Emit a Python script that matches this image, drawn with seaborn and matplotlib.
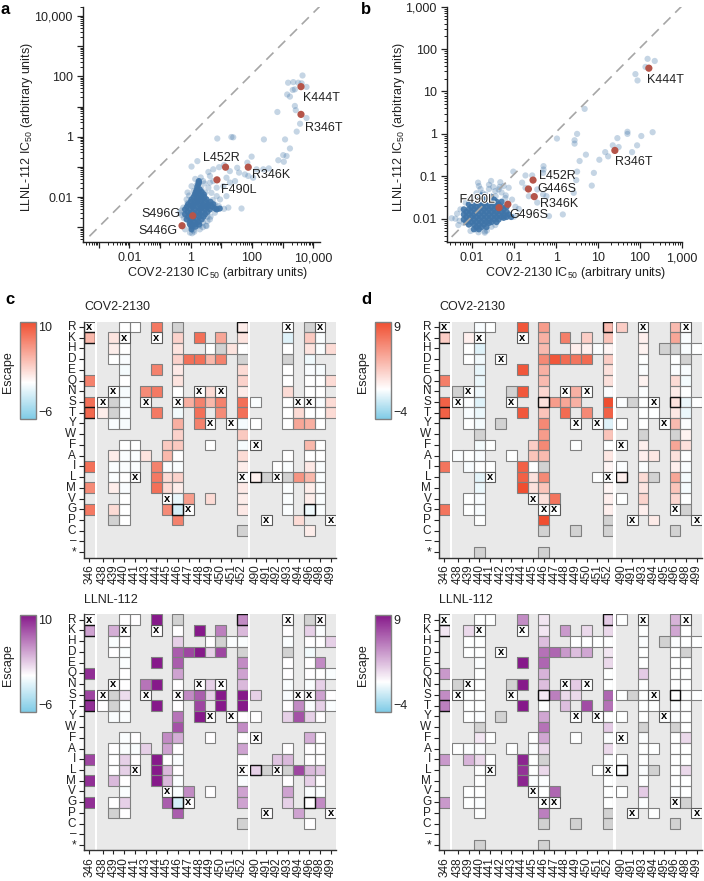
import numpy as np
import pandas as pd
import seaborn as sns
from matplotlib import pyplot as plt
from matplotlib import patheffects
from matplotlib.cm import ScalarMappable
from matplotlib.colors import LinearSegmentedColormap, ListedColormap, Normalize
from matplotlib.patches import Rectangle
from matplotlib.ticker import LogLocator, NullFormatter

# ---- panel a, log10 values
A_LIGHT_X = [3.35,3.18,3.51,3.65,3.62,3.78,3.40,3.33,3.15,3.24,3.40,3.43,2.83,3.78,3.57,3.46,3.08,3.24,3.02,3.13,
             2.86,3.04,2.55,2.39,2.37,2.15,1.99,1.85,1.39,1.33,0.87,0.22,0.03,0.58,0.74,0.93,1.09,1.52,1.58,1.77,
             1.88,2.04,1.17,1.28,0.63,0.74,1.45,1.28,1.07,0.85,1.17,1.66,1.23,1.09,0.90,0.63,0.41,0.03,0.58,0.85,
             0.96,0.68,0.52,0.30,-0.02,0.03,-0.18,0.63,0.79,-0.35,-0.24,-0.13,0.20,0.35,0.48,-0.10,0.10,0.25,0.60,
             0.70,0.15,0.40,0.55,-0.05,0.10,0.30,-0.22,-0.10,0.72,0.65,0.50,0.40,-0.28,-0.30,0.80,0.92,0.45,-0.05,
             0.15,0.33,0.12,0.05,0.55]
A_LIGHT_Y = [1.81,1.79,1.79,2.03,1.77,1.65,1.57,1.55,1.40,1.33,1.02,0.88,0.82,0.62,0.43,0.17,-0.09,-0.39,-0.61,-0.64,
             -0.78,-0.83,-1.05,-0.09,-1.08,-1.08,-0.66,-0.86,-0.02,-0.01,-0.06,-0.81,-0.99,-1.17,-1.08,-1.01,-0.94,-1.03,-1.19,-1.25,
             -1.30,-1.36,-1.36,-1.14,-1.30,-1.47,-1.47,-1.52,-1.64,-1.69,-1.97,-2.38,-2.35,-2.39,-2.39,-1.52,-1.47,-1.64,-1.69,-1.97,
             -2.08,-1.86,-2.96,-3.07,-3.18,-3.02,-3.07,-2.74,-2.52,-2.52,-2.35,-2.08,-1.60,-1.72,-1.85,-1.85,-1.80,-1.50,-2.20,
             -2.30,-2.85,-2.85,-2.80,-2.85,-3.10,-2.95,-2.70,-2.20,-2.10,-2.65,-2.95,-3.00,-2.60,-2.45,-2.25,-2.30,-1.55,-1.95,
             -1.40,-1.35,-3.15,-3.20,-2.65]
A_CORE_X = [0.25,0.20,0.30,0.14,0.28,0.43,0.03,0.20,0.36,0.52,-0.08,0.09,0.25,0.41,0.58,0.74,-0.18,-0.02,0.14,0.30,
            0.47,0.63,0.85,-0.18,-0.02,0.14,0.30,0.47,-0.13,0.03,0.20,0.36,-0.02,0.14,0.28,0.03,0.07,0.22,0.36,0.50,
            0.22,0.17,0.24,0.36,0.10,0.22,0.35,0.45,0.00,0.17,0.33,0.49,0.65,-0.12,0.06,0.22,0.38,0.55,0.70,-0.10,
            0.06,0.22,0.38,0.55,-0.08,0.10,0.28,0.42,-0.02,0.12,0.26,0.03,0.16,0.80,0.95,0.27,0.27]
A_CORE_Y = [-1.58,-1.75,-1.75,-1.91,-1.91,-1.91,-2.08,-2.08,-2.08,-2.08,-2.24,-2.24,-2.24,-2.24,-2.24,-2.24,-2.41,-2.41,-2.41,-2.41,
            -2.41,-2.41,-2.41,-2.57,-2.57,-2.57,-2.57,-2.57,-2.74,-2.74,-2.74,-2.74,-2.91,-2.91,-2.91,-3.07,-2.30,-2.15,-2.35,-2.32,
            -1.66,-1.83,-1.83,-1.83,-2.00,-2.00,-2.00,-2.00,-2.16,-2.16,-2.16,-2.16,-2.16,-2.32,-2.32,-2.32,-2.32,-2.32,-2.32,-2.49,
            -2.49,-2.49,-2.49,-2.49,-2.65,-2.65,-2.65,-2.65,-2.82,-2.82,-2.82,-2.98,-2.98,-2.38,-2.38,-1.47,-1.52]
A_NAMES = ["K444T","R346T","R346K","L452R","F490L","S496G","S446G"]
A_NAME_X = [3.60,3.60,1.88,1.14,0.86,0.07,-0.28]
A_NAME_Y = [1.66,0.74,-1.01,-1.01,-1.43,-2.62,-2.95]
A_TICK_LOG = [-3,-2,-1,0,1,2,3,4]
A_TICK_TEXT = ["","0.01","","1","","100","","10,000"]

# ---- panel b
B_LIGHT_X = [2.18,2.35,2.13,1.89,1.94,0.68,1.70,1.70,2.30,2.03,1.93,1.46,1.35,1.49,1.17,1.24,1.81,1.03,0.71,0.56,
             0.50,0.44,0.44,0.02,0.50,0.48,0.90,0.85,0.42,0.16,-0.17,-0.31,-0.23,-0.45,-0.30,-0.30,-0.31,-0.73,-0.57,-0.81,
             -0.73,-1.02,-0.53,-0.45,-0.65,-0.97,-1.86,-1.84,-1.55,-1.33,-1.25,-1.13,-1.37,-1.70,-1.54,-2.04,-2.33,-2.49,-2.36,-1.21,
             -1.05,-0.89,-1.25,-1.19,-1.68,-1.44,-2.08,-2.16,-2.28,-1.90,-1.60,-1.30,-1.65,-1.45,-2.30,-1.75,-1.50,-1.20,-1.35,-1.60,
             -1.45,-1.15,-1.00,-1.80,-2.00,-2.20,-2.40,-1.90,-1.85,-1.70]
B_LIGHT_Y = [1.77,1.72,1.58,1.41,1.26,0.59,0.05,0.00,0.04,-0.05,-0.27,-0.10,-0.27,-0.31,-0.43,-0.53,-0.43,-0.61,-0.49,-0.64,
             0.00,-0.15,-0.23,-0.11,-0.89,-1.09,-0.92,-1.22,-1.39,-1.90,-1.94,-1.43,-1.47,-1.62,-0.76,-0.84,-0.92,-0.98,-0.98,-1.15,
             -1.27,-0.89,-1.47,-1.31,-1.47,-1.72,-1.15,-1.23,-1.11,-1.14,-1.23,-1.27,-1.31,-2.33,-2.19,-2.29,-2.15,-1.99,-1.88,-1.51,
             -1.55,-1.77,-1.95,-1.94,-1.43,-1.47,-1.55,-1.62,-1.78,-1.40,-1.30,-1.38,-2.28,-2.15,-2.05,-1.40,-1.25,-1.45,-1.25,-1.20,
             -1.35,-1.65,-1.95,-1.30,-1.50,-2.10,-2.00,-2.25,-2.32,-2.30]
B_CORE_X = [-1.96,-1.84,-1.72,-1.60,-1.48,-2.08,-1.96,-1.84,-1.72,-1.60,-1.48,-1.37,-2.20,-2.08,-1.96,-1.84,-1.72,-1.60,-1.48,-1.37,
            -1.25,-2.20,-2.08,-1.96,-1.84,-1.72,-1.60,-1.48,-1.37,-1.25,-1.13,-2.20,-2.08,-1.96,-1.84,-1.72,-1.60,-1.48,-1.37,-1.25,
            -2.08,-1.96,-1.84,-1.72,-1.60,-1.96,-1.84,-1.78,-1.55,-1.30,
            -1.90,-1.78,-1.66,-1.54,-1.42,-2.02,-1.90,-1.78,-1.66,-1.54,-1.42,-1.30,-1.18,-2.14,-2.02,-1.90,-1.78,-1.66,-1.54,-1.42,
            -1.30,-1.18,-2.14,-2.02,-1.90,-1.78,-1.66,-1.54,-1.42,-1.30,-1.18,-1.07,-2.14,-2.02,-1.90,-1.78,-1.66,-1.54,-1.42,-1.90,
            -1.78,-1.66]
B_CORE_Y = [-1.55,-1.55,-1.55,-1.55,-1.55,-1.66,-1.66,-1.66,-1.66,-1.66,-1.66,-1.66,-1.78,-1.78,-1.78,-1.78,-1.78,-1.78,-1.78,-1.78,
            -1.78,-1.90,-1.90,-1.90,-1.90,-1.90,-1.90,-1.90,-1.90,-1.90,-1.90,-2.02,-2.02,-2.02,-2.02,-2.02,-2.02,-2.02,-2.02,-1.98,
            -2.14,-2.14,-2.14,-2.14,-2.10,-2.25,-2.25,-1.45,-1.48,-1.60,
            -1.60,-1.60,-1.60,-1.60,-1.60,-1.72,-1.72,-1.72,-1.72,-1.72,-1.72,-1.72,-1.72,-1.84,-1.84,-1.84,-1.84,-1.84,-1.84,-1.84,
            -1.84,-1.84,-1.96,-1.96,-1.96,-1.96,-1.96,-1.96,-1.96,-1.96,-1.96,-1.96,-2.08,-2.08,-2.08,-2.08,-2.08,-2.08,-2.08,-2.20,
            -2.20,-2.20]
B_NAMES = ["K444T","R346T","L452R","G446S","R346K","G496S","F490L"]
B_NAME_X = [2.21,1.40,-0.55,-0.66,-0.52,-1.15,-1.36]
B_NAME_Y = [1.55,-0.39,-1.09,-1.30,-1.48,-1.66,-1.74]
B_TICK_LOG = [-2,-1,0,1,2,3]
B_TICK_TEXT = ["0.01","0.1","1","10","100","1,000"]

# ---- heatmaps: 'x' wild type, 'g' grey cell
ROWS = ["R","K","H","D","E","Q","N","S","T","Y","W","F","A","I","L","M","V","G","P","C","–","*"]
STAR = {"*": "g"}
SEGS_C = [["346"],
          ["438","439","440","441","443","444","445","446","447","448","449","450","451","452"],
          ["490","491","492","493","494","496","498","499"]]
SEGS_D = [["346"],
          ["438","439","440","441","442","443","444","445","446","447","448","449","450","451","452"],
          ["490","491","493","494","495","496","498","499"]]
BOLD_C = [("346","K"),("346","T"),("446","G"),("452","R"),("490","L"),("496","G")]
BOLD_D = [("346","K"),("346","T"),("446","S"),("452","R"),("490","L"),("496","S")]

C_TOP = {
 "346": dict(R='x',K=4,Q=7,S=8,T=8.5,I=8,M=6.5,G=7.5),
 "438": dict(S='x',T=1),
 "439": dict(K=1.5,H=1,D=0,N='x',S='g',T='g',Y=-.3,A=1,I=-.2,L=-.2,M=1,G=2,P='g'),
 "440": dict(R=0,K='x',H=0,D=-.3,E=-.5,Q=0,N=-.4,S=-.4,T=-.3,Y=-.4,F=0,A=-.2,I=-.2,L=0,M=-.3,V=0,G=0,P=0),
 "441": dict(R=0,F=0,A=-.2,I=-.2,L='x'),
 "443": dict(N=6.5,S='x',A=1.5),
 "444": dict(R=7.5,K='x',E=7,N=7.5,T=7.5,I=7,L=7.5,M=8),
 "445": dict(F=3,A=4,I=-.2,L=2,M=2,V='x',G=6.5),
 "446": dict(R='g',K=2.5,H=1.5,D=2.5,E=1.2,Q=1.5,N=0,S='x',T=-.6,Y=4.5,W=2.5,F=3,A=0,I=-.2,L=2.5,M=1,V=-1,G=-2,P=7),
 "447": dict(D=8,S=4.5,V=5.5,G='x'),
 "448": dict(K=8,D=8,N='x',S=7,T=8,Y=7),
 "449": dict(H=0,D=4,N=2,S=4,Y='x',F=0,V=2),
 "450": dict(K=5,H='g',D=7,N='x',S=7,T=6.5),
 "451": dict(H=1.5,Y='x'),
 "452": dict(R=1,K=1.5,H=0,D='g',E=2,Q=2.5,N=1,S=8,T=8,Y=-.5,W=3,F=-.4,A=2,I=1,L='x',M=1.2,V=1,G=1.2,C='g'),
 "490": dict(S=-.2,Y=0,F='x',L=.8),
 "491": dict(L='g',P='x'),
 "492": dict(I=0,L='x'),
 "493": dict(R='x',K=-1.5,H=0,D='g',E=0,Q=0,N=2,S=0,T=0,Y=0,A=0,I=-.2,L='g',M=-.2,V=-.2,G=-.2),
 "494": dict(S='x',T=2,Y=5,L=6,P=2),
 "496": dict(R='g',K=3,H=1.5,D=-.7,E=-.3,Q=0,N=0,S='x',T=0,Y=4.5,F=4,A=0,I=1.2,L=4,M=1,V=1,G=-.7,C=1),
 "498": dict(R='x',K=-.2,H=-.2,E=-.4,Q=0,N=0,S=-.3,T=0,Y=0,F=0,A=0,I=-.2,L=-.2,M=-.2,V=-.2,G=-.2),
 "499": dict(H=2,Q=2,S=2,T=2,P='x'),
}
C_BOTTOM = {
 "346": dict(R='x',K=4,Q=9,S=8,T=9,I=8,M=9,G=9),
 "438": dict(S='x',T=0),
 "439": dict(K=3.5,H=-.2,D=0,N='x',S='g',T='g',Y=-.2,A=0,I=0,L=0,M=3,G=0,P='g'),
 "440": dict(R=0,K='x',H=0,D=-.2,E=-.2,Q=0,N=0,S=1.5,T=-.2,Y=-.2,F=-.2,A=-.2,I=2,L=2,M=0,V=-.2,G=2,P=0),
 "441": dict(R=0,F=0,A=-.2,I=0,L='x'),
 "443": dict(N=6,S='x',A=2),
 "444": dict(R=10,K='x',E=10,N=10,T=10,I=10,L=10,M=10),
 "445": dict(F=5,A=4,I=0,L=3,M=3,V='x',G=7),
 "446": dict(R='g',K=0,H=2,D=7,E=7,Q=4,N=0,S='x',T=0,Y=6,W=7.5,F=3.5,A=0,I=-.2,L=0,M=-.2,V=-.2,G=-2,P=7),
 "447": dict(D=8,S=5,V=5,G='x'),
 "448": dict(K=10,D=10,N='x',S=7,T=8,Y=10),
 "449": dict(H=0,D=2,N=2,S=2,Y='x',F=0,V=0),
 "450": dict(K=5.5,H='g',D=8,N='x',S=10,T=10),
 "451": dict(H=-.2,Y='x'),
 "452": dict(R=5,K=3,H=-.2,D='g',E=5,Q=4,N=3,S=10,T=10,Y=0,W=5,F=0,A=4,I=0,L='x',M=-.2,V=4,G=4,C='g'),
 "490": dict(S=2,Y=0,F='x',L=2),
 "491": dict(L='g',P='x'),
 "492": dict(I=2.5,L='x'),
 "493": dict(R='x',K=0,H=-.2,D='g',E=0,Q=0,N=-.2,S=-.3,T=0,Y=2,A=0,I=3,L='g',M=0,V=4,G=2),
 "494": dict(S='x',T=5,Y=7.5,L=8,P=4),
 "496": dict(R='g',K=2,H=0,D=-.6,E=0,Q=0,N=-.2,S='x',T=-.2,Y=2,F=3.5,A=0,I=0,L=3,M=2,V=-.2,G=0,C=0),
 "498": dict(R='x',K=-.2,H=0,E=5,Q=0,N=2,S=4,T=2,Y=0,F=0,A=0,I=0,L=2.5,M=0,V=-.2,G=5),
 "499": dict(H=2,Q=-.2,S=0,T=-.2,P='x'),
}
D_TOP = {
 "346": dict(R='x',K=2.5,Q=6.5,S=8,T=8,I=7,G=7),
 "438": dict(N='g',S='x',A=-.1),
 "439": dict(K=.8,H=0,D=0,N='x',S=-.1,T=-.2,Y=0,A=0,I=-.2,V=0,G=0),
 "440": dict(R=-.2,K='x',H=-1,D=-.4,E=-.7,Q=-.6,N=-.5,S=-1,T=-.6,Y=-.3,W='g',F=-.3,A=-.2,I=0,L=-.9,M=-.6,V=-.2,G=-.2,P=0,**STAR),
 "441": dict(R=0,F=0,I=0,L='x'),
 "442": dict(D='x',Y='g'),
 "443": dict(N='g',S='x',A=0),
 "444": dict(R=8.5,K='x',E=8.5,N=8.5,T=8.5,I=8,L=8,M=9),
 "445": dict(F=2.5,A=3,I=0,L=1.5,M=1.5,V='x'),
 "446": dict(R=5,K=4,H=3.5,D=6,E=4,Q=3.5,N=2,S=1.5,T=3,Y=6,W=5,F=6,A=3.5,I='g',L=6,M=3,V=1.5,G='x',P=9,C='g',**STAR),
 "447": dict(D=8.5,S=5,V=7,G='x'),
 "448": dict(K=6.5,D=7.5,N='x',S=4.5,T=7.5),
 "449": dict(H=.8,D=7,N=4,S=4,Y='x',F=0,C='g'),
 "450": dict(K=2.5,H=.8,D=7.5,N='x',T=6),
 "451": dict(H=-.1,Y='x',L=0),
 "452": dict(R=3.5,K=3,H=.5,D=2.5,E=1.5,Q=1.5,N=-.1,S=9,T=8,Y=-1,W=3,F=0,A=1.2,I=.5,L='x',M=.5,V=.8,G=.8,P='g',C='g'),
 "490": dict(R=2.5,S=-.1,Y=0,F='x',I=-.1,L=.8,V=0),
 "491": dict(S='g',P='x'),
 "493": dict(R='x',K=.8,H=.6,D=0,E=-.1,Q=.6,N=-.1,S=0,T=0,Y=0,W='g',F=.8,A=.8,I=-.1,L=1.8,M=1.3,V=2.2,G=.8),
 "494": dict(S='x',T=0,A=1.2,L='g',P=1),
 "495": dict(H='g',Y='x'),
 "496": dict(R=3.5,K=4.5,H='g',D=0,E=-.1,Q=1.8,N=1,S=1.5,T=1.2,Y=3.5,W='g',F=4.5,A=1.5,I=.8,L=4.5,M=3,V=2,G='x',C='g'),
 "498": dict(R='x',K=-.2,H=-.2,D='g',E=-.2,Q=-.3,N=0,S=-.6,T=-.6,Y=-.1,W=.6,F=1.5,A=0,I=-.2,L=-.3,M=-.3,V=0,G='g'),
 "499": dict(H=0,S=0,P='x'),
}
D_BOTTOM = {
 "346": dict(R='x',K=1,Q=4,S=4.5,T=5,I=4,G=4),
 "438": dict(N='g',S='x',A=0),
 "439": dict(K=1.5,H=0,D=0,N='x',S=0,T=0,Y=0,A=-.1,I=3,V=0,G=0),
 "440": dict(R=0,K='x',H=0,D=0,E=-.1,Q=0,N=0,S=0,T=0,Y=-.1,W='g',F=1,A=-.1,I=1.5,L=0,M=0,V=0,G=-.1,P=0,**STAR),
 "441": dict(R=0,F=0,I=0,L='x'),
 "442": dict(D='x',Y='g'),
 "443": dict(N='g',S='x',A=0),
 "444": dict(R=4.5,K='x',E=9,N=9,T=9,I=8.5,L=8,M=8.5),
 "445": dict(F=0,A=-.1,I=0,L=0,M=-.1,V='x'),
 "446": dict(R=1,K=1,H=2.5,D=5.5,E=6,Q=3,N=2.5,S=1,T=0,Y=3.5,W=5.5,F=3.5,A=1.5,I='g',L=1.5,M=-.1,V=0,G='x',P=5,C='g',**STAR),
 "447": dict(D=6,S=5,V=6,G='x'),
 "448": dict(K=4,D=4,N='x',S=1.5,T=2.5),
 "449": dict(H=0,D=2.5,N=2,S=1.5,Y='x',F=0,C='g'),
 "450": dict(K=1.5,H=0,D=3.5,N='x',T=7),
 "451": dict(H=0,Y='x',L=0),
 "452": dict(R=2,K=1.5,H=0,D=1,E=1.5,Q=0,N=0,S=6,T=5.5,Y=0,W=2,F=-.1,A=1.5,I=-.1,L='x',M=0,V=0,G=0,P='g',C='g'),
 "490": dict(R=0,S=0,Y=0,F='x',I=0,L=0,V=0),
 "491": dict(S='g',P='x'),
 "493": dict(R='x',K=0,H=-.1,D=0,E=0,Q=2,N=0,S=0,T=0,Y=0,W='g',F=-.1,A=0,I=0,L=-.1,M=0,V=2,G=-.1),
 "494": dict(S='x',T=0,A=0,L='g',P=0),
 "495": dict(H='g',Y='x'),
 "496": dict(R=3,K=3.5,H=-.1,D=0,E=0,Q=0,N=0,S=0,T=-.1,Y=-.1,W='g',F=0,A=0,I=0,L=0,M=0,V=-.1,G='x',C='g'),
 "498": dict(R='x',K=0,H=0,D='g',E=0,Q=0,N=0,S=0,T=0,Y=0,W=0,F=1.5,A=0,I=0,L=1.5,M=0,V=0,G='g'),
 "499": dict(H=0,S=0,P='x'),
}

W, H = 704, 881
BLUE = "#3f74a8"
RED = "#b5554a"
EDGE = "#808080"

sns.set_theme(style="ticks")
plt.rcParams["font.family"] = ["Liberation Sans", "DejaVu Sans"]
plt.rcParams["mathtext.default"] = "regular"
plt.rcParams["text.color"] = "#222222"

fig = plt.figure(figsize=(W / 100, H / 100), dpi=100)


def px_axes(left, top, right, bottom):
  return fig.add_axes([left / W, 1 - bottom / H, (right - left) / W, (bottom - top) / H])


def scatter_panel(box, lx, ly, cx, cy, names, nx, ny, offsets, lims, dash, ticks, tick_text, xlab_pos, ylab_pos):
  ax = px_axes(*box)
  sns.scatterplot(x=10.0 ** np.array(lx), y=10.0 ** np.array(ly), color=BLUE, alpha=0.3, s=20, edgecolor="none", ax=ax)
  sns.scatterplot(x=10.0 ** np.array(cx), y=10.0 ** np.array(cy), color=BLUE, alpha=0.9, s=20, edgecolor="none", ax=ax)
  ax.plot(10.0 ** np.array(dash[0]), 10.0 ** np.array(dash[1]), color="#a6a6a6", lw=1.2, dashes=(6, 4), zorder=1)
  sns.scatterplot(x=10.0 ** np.array(nx), y=10.0 ** np.array(ny), color=RED, s=27, edgecolor="none", ax=ax, zorder=5)
  ax.set_xscale("log")
  ax.set_yscale("log")
  ax.set_xlim(10.0 ** lims[0], 10.0 ** lims[1])
  ax.set_ylim(10.0 ** lims[2], 10.0 ** lims[3])
  for axis in (ax.xaxis, ax.yaxis):
    axis.set_ticks([10.0 ** t for t in ticks])
    axis.set_ticklabels(tick_text)
    axis.set_minor_locator(LogLocator(base=10, subs=range(2, 10), numticks=30))
    axis.set_minor_formatter(NullFormatter())
  ax.tick_params(which="major", length=4.5, width=0.9, labelsize=9, pad=3, color="#222222", labelcolor="#222222")
  ax.tick_params(which="minor", length=2.5, width=0.7, color="#222222")
  ax.patch.set_alpha(0)
  sns.despine(ax=ax)
  for side in ("left", "bottom"):
    ax.spines[side].set_linewidth(1.0)
    ax.spines[side].set_color("#222222")
  for name, x, y, (ha, dx, dy) in zip(names, nx, ny, offsets):
    t = ax.annotate(name, (10.0 ** x, 10.0 ** y), xytext=(dx, dy), textcoords="offset pixels",
                    ha=ha, va="center", fontsize=9, zorder=6)
    if name == "F490L" and lims[0] > -3:
      t.set_path_effects([patheffects.withStroke(linewidth=1.5, foreground="white")])
  fig.text(xlab_pos / W, 1 - 273 / H, "COV2-2130 IC$_{50}$ (arbitrary units)", ha="center", va="center", fontsize=9)
  fig.text(ylab_pos / W, 1 - 127 / H, "LLNL-112 IC$_{50}$ (arbitrary units)", ha="center", va="center",
           rotation=90, fontsize=9)
  return ax


def heat_panel(table, segments, bold, left, top, title, vmin, vmax, hot, tops):
  pitch = 10.73
  stops = [(0, "#7fcbe6"), (-vmin / (vmax - vmin), "white"), (1, hot)]
  cmap = LinearSegmentedColormap.from_list("escape", stops)
  raw = pd.DataFrame(table, index=ROWS)
  values = raw.map(lambda v: 0.0 if v == "x" else (np.nan if v == "g" else float(v))).astype(float)
  grey = raw.map(lambda v: 1.0 if v == "g" else np.nan).astype(float)
  marks = raw.map(lambda v: "x" if v == "x" else "")
  x = left
  for i, cols in enumerate(segments):
    if i > 0:
      x += 2.7
    width = pitch * len(cols)
    ax = px_axes(x, top, x + width, top + pitch * len(ROWS))
    ax.set_facecolor("#e9e9e9")
    if grey[cols].notna().any().any():
      sns.heatmap(grey[cols], cmap=ListedColormap(["#d2d2d2"]), vmin=0, vmax=2, cbar=False, ax=ax)
    sns.heatmap(values[cols], cmap=cmap, vmin=vmin, vmax=vmax, cbar=False,
                annot=marks[cols], fmt="", annot_kws={"size": 8, "color": "black", "weight": "bold"},
                yticklabels=ROWS if i == 0 else False, xticklabels=cols, ax=ax)
    # outlines only on measured cells, masked ones stay open
    for cx, col in enumerate(cols):
      for cy, row in enumerate(ROWS):
        cell = raw.loc[row, col]
        if pd.isna(cell):
          continue
        if (col, row) in bold:
          ax.add_patch(Rectangle((cx, cy), 1, 1, fill=False, ec="#111111", lw=1.0, zorder=4))
        elif cell == "x":
          ax.add_patch(Rectangle((cx, cy), 1, 1, fill=False, ec="#5a5a5a", lw=0.8, zorder=3))
        else:
          ax.add_patch(Rectangle((cx, cy), 1, 1, fill=False, ec=EDGE, lw=0.8, zorder=2))
    for side in ax.spines.values():
      side.set_visible(False)
    ax.set_xlabel("")
    ax.set_ylabel("")
    ax.tick_params(axis="x", rotation=90, labelsize=8.5, length=3, width=0.8, pad=2, color="#222222", labelcolor="#222222")
    ax.tick_params(axis="y", rotation=0, labelsize=8.5, length=3.5 if i == 0 else 0, width=0.8, pad=2,
                   color="#222222", labelcolor="#222222")
    x += width
  # left and bottom rule runs over the white gaps
  frame = px_axes(left, top, x, top + pitch * len(ROWS))
  frame.patch.set_alpha(0)
  frame.set_xticks([])
  frame.set_yticks([])
  sns.despine(ax=frame)
  for side in ("left", "bottom"):
    frame.spines[side].set_linewidth(1.0)
    frame.spines[side].set_color("#333333")
  fig.text(left / W, 1 - (top - 14) / H, title, ha="left", va="center", fontsize=9)
  # colour key
  cax = px_axes(tops[0], top + 0.5, tops[0] + 15.5, top + 97.5)
  bar = fig.colorbar(ScalarMappable(norm=Normalize(vmin, vmax), cmap=cmap), cax=cax)
  bar.set_ticks([vmin, vmax])
  bar.set_ticklabels(["−" + str(-vmin), str(vmax)])
  bar.ax.tick_params(length=0, labelsize=9, pad=2, labelcolor="#222222")
  bar.outline.set_edgecolor(EDGE)
  bar.outline.set_linewidth(1.0)
  labs = bar.ax.get_yticklabels()
  labs[0].set_va("bottom")
  labs[1].set_va("top")
  fig.text(tops[1] / W, 1 - (top + 51) / H, "Escape", rotation=90, ha="center", va="center", fontsize=9)


scatter_panel((83.3, 6.7, 320, 242), A_LIGHT_X, A_LIGHT_Y, A_CORE_X, A_CORE_Y, A_NAMES, A_NAME_X, A_NAME_Y,
              [("left", 2, -11), ("left", 4, -14), ("left", 4, -8), ("left", -23, 9), ("left", 4, -10),
               ("right", -12, 2), ("right", -5, -5)],
              (-3.5, 4.22, -3.49, 4.31), ([-3.3, 4.22], [-3.3, 4.33]), A_TICK_LOG, A_TICK_TEXT, 217, 27.5)
scatter_panel((447, 6.7, 682, 242), B_LIGHT_X, B_LIGHT_Y, B_CORE_X, B_CORE_Y, B_NAMES, B_NAME_X, B_NAME_Y,
              [("left", -2, -12), ("left", 0, -12), ("left", 6, 4), ("left", 9, 0), ("left", 6, -7), ("left", 2, -11),
               ("right", -4, 8)],
              (-2.6, 3.0, -2.55, 3.0), ([-2.49, 3.0], [-2.43, 3.02]), B_TICK_LOG, B_TICK_TEXT, 575, 399)

heat_panel(C_TOP, SEGS_C, BOLD_C, 83.9, 321.5, "COV2-2130", -6, 10, "#f04e30", (20, 8))
heat_panel(C_BOTTOM, SEGS_C, BOLD_C, 83.9, 614.4, "LLNL-112", -6, 10, "#86198a", (20, 8))
heat_panel(D_TOP, SEGS_D, BOLD_D, 439, 321.5, "COV2-2130", -4, 9, "#f04e30", (375, 363))
heat_panel(D_BOTTOM, SEGS_D, BOLD_D, 439, 614.4, "LLNL-112", -4, 9, "#86198a", (375, 363))

for letter, lx_, ly_ in [("a", 5, 10), ("b", 366, 9), ("c", 10, 300), ("d", 366, 300)]:
  fig.text(lx_ / W, 1 - ly_ / H, letter, fontsize=12, fontweight="bold", color="black", ha="center", va="center")

fig.savefig("out.png", dpi=100)
